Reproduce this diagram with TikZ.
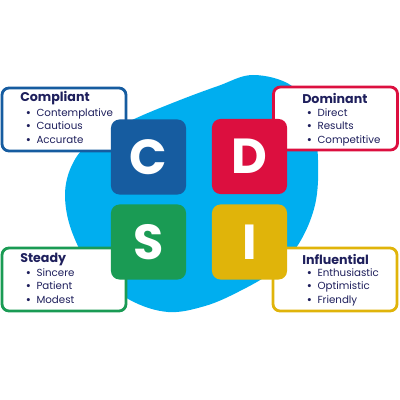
\documentclass[tikz,border=0pt]{standalone}
\usepackage{fontspec}
\setmainfont{Poppins}
\definecolor{blobblue}{RGB}{0, 174, 239}
\definecolor{cblue}{RGB}{22, 92, 160}
\definecolor{dred}{RGB}{220, 15, 63}
\definecolor{sgreen}{RGB}{26, 155, 84}
\definecolor{iyellow}{RGB}{224, 180, 10}
\definecolor{navy}{RGB}{30, 31, 92}
\usetikzlibrary{positioning}

\newcommand{\bul}{{\bfseries •}\hspace{4pt}}

\begin{document}
\begin{tikzpicture}[x=0.025cm, y=-0.025cm,
  infobox/.style={draw=#1, line width=2pt, rounded corners=5pt, fill=white, minimum width=3.1cm, minimum height=1.575cm},
  square/.style={rounded corners=6pt, minimum size=1.875cm, inner sep=0pt, text=white, font=\fontsize{35}{35}\selectfont\bfseries},
  title/.style={anchor=west, inner sep=0pt, text=navy, font=\fontsize{9}{10}\selectfont\bfseries},
  items/.style={anchor=north west, inner sep=0pt, align=left, text=navy, font=\fontsize{7.3}{9.6}\selectfont}
]
  \useasboundingbox (0,0) rectangle (400,400);

  % background blob
  \fill[blobblue] plot[smooth cycle, tension=0.6] coordinates {
    (253,75) (292,86) (312,118) (318,160) (315,205) (298,245) (272,272)
    (238,292) (205,306) (168,312) (130,300) (94,272) (72,232) (65,195) (72,165)
    (90,143) (130,121) (175,102) (218,86)};

  % boxes
  \node[infobox=cblue] (cbox) at (64, 119.5) {};
  \node[infobox=dred] (dbox) at (335.5, 118.5) {};
  \node[infobox=sgreen] (sbox) at (64, 279.5) {};
  \node[infobox=iyellow] (ibox) at (335, 279.5) {};

  % letters
  \node[square, fill=cblue] (c) at (148.5, 157) {C};
  \node[square, fill=dred] (d) at (249.5, 156.5) {D};
  \node[square, fill=sgreen] (s) at (148.5, 242) {S};
  \node[square, fill=iyellow] (i) at (249.5, 242) {I};

  % texts
  \node[title] (ctitle) at (20, 98) {Compliant};
  \node[items] (citems) at (25.5, 108) {\bul Contemplative\\\bul Cautious\\\bul Accurate};
  \node[title] (dtitle) at (302, 98) {Dominant};
  \node[items] (ditems) at (306.5, 108) {\bul Direct\\\bul Results\\\bul Competitive};
  \node[title] (stitle) at (20, 259) {Steady};
  \node[items] (sitems) at (25.5, 268) {\bul Sincere\\\bul Patient\\\bul Modest};
  \node[title] (ititle) at (302, 259) {Influential};
  \node[items] (iitems) at (306.5, 268) {\bul Enthusiastic\\\bul Optimistic\\\bul Friendly};
\end{tikzpicture}
\end{document}
